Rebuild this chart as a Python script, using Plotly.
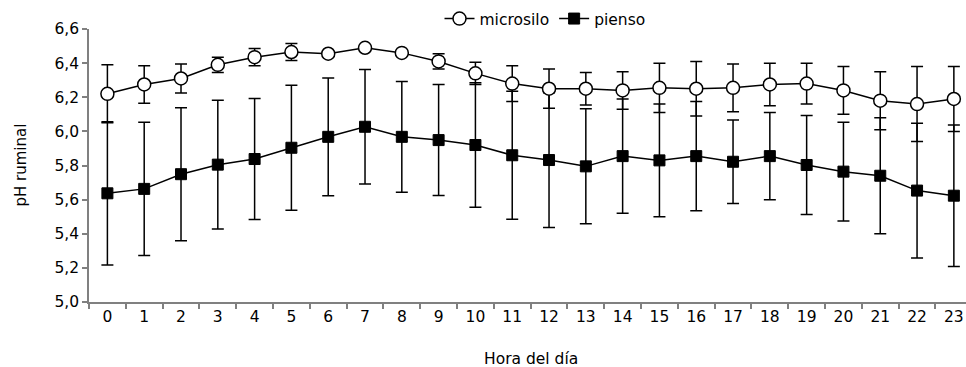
import plotly.graph_objects as go

hours = [str(h) for h in range(24)]

microsilo = [6.22, 6.275, 6.31, 6.39, 6.435, 6.465, 6.455, 6.49, 6.46, 6.41, 6.34, 6.28,
             6.25, 6.25, 6.24, 6.255, 6.25, 6.255, 6.275, 6.28, 6.24, 6.18, 6.16, 6.19]
microsilo_err = [0.17, 0.11, 0.085, 0.045, 0.05, 0.05, 0.01, 0.01, 0.01, 0.045, 0.065, 0.105,
                 0.115, 0.095, 0.11, 0.145, 0.16, 0.14, 0.125, 0.12, 0.14, 0.17, 0.22, 0.19]

pienso = [5.637, 5.663, 5.749, 5.805, 5.838, 5.904, 5.968, 6.027, 5.968, 5.949, 5.92, 5.86,
          5.832, 5.795, 5.855, 5.83, 5.855, 5.822, 5.855, 5.803, 5.764, 5.74, 5.653, 5.623]
pienso_err = [0.42, 0.39, 0.39, 0.377, 0.355, 0.367, 0.345, 0.335, 0.325, 0.325, 0.365, 0.375,
              0.395, 0.337, 0.335, 0.33, 0.32, 0.245, 0.255, 0.29, 0.29, 0.34, 0.395, 0.415]

yticks = [5.0, 5.2, 5.4, 5.6, 5.8, 6.0, 6.2, 6.4, 6.6]

FONT = "DejaVu Sans, Liberation Sans, Arial, sans-serif"
W, H = 966, 367
PL, PT, PB = 89, 29, 302  # plot edges in page pixels
L, T, B, R = PL, PT, H - PB, 0
pw, ph = W - L - R, H - T - B

fig = go.Figure()
fig.add_trace(go.Scatter(
    x=hours, y=pienso, name="pienso", mode="lines+markers",
    line=dict(color="black", width=1.5),
    marker=dict(symbol="square", size=11, color="black", line=dict(color="black", width=1)),
    error_y=dict(type="data", array=pienso_err, visible=True, color="black", thickness=1.5, width=6),
    legendrank=2,
))
fig.add_trace(go.Scatter(
    x=hours, y=microsilo, name="microsilo", mode="lines+markers",
    line=dict(color="black", width=1.5),
    marker=dict(symbol="circle", size=13, color="white", line=dict(color="black", width=1.5)),
    error_y=dict(type="data", array=microsilo_err, visible=True, color="black", thickness=1.5, width=6),
    legendrank=1,
))

fig.update_layout(
    width=W, height=H,
    margin=dict(l=L, r=R, t=T, b=B, pad=0),
    paper_bgcolor="white", plot_bgcolor="white",
    separators=",.",
    font=dict(family=FONT, size=15, color="black"),
    showlegend=True,
    legend=dict(orientation="h", x=(545 - PL) / pw, y=(PB - 19) / ph,
                xanchor="center", yanchor="middle",
                font=dict(size=15.5), bgcolor="rgba(0,0,0,0)",
                itemwidth=30, tracegroupgap=0),
)
fig.update_xaxes(
    type="category", range=[-0.5, 23.33],
    showline=True, linecolor="#808080", linewidth=1.5,
    ticks="outside", tickson="boundaries", ticklen=5, tickcolor="#808080", tickwidth=1.5,
    showgrid=False, zeroline=False, tickfont=dict(size=15.5),
)
fig.update_yaxes(
    range=[5.0, 6.6], tickvals=yticks, tickformat=".1f",
    showline=True, linecolor="#808080", linewidth=1.5,
    ticks="outside", ticklen=5, tickcolor="#808080", tickwidth=1.5,
    showgrid=False, zeroline=False, tickfont=dict(size=15.5),
)

fig.add_annotation(text="pH ruminal", xref="paper", yref="paper",
                   x=(20 - PL) / pw, y=0.5, textangle=-90, showarrow=False,
                   xanchor="center", yanchor="middle", font=dict(size=15))
fig.add_annotation(text="Hora del día", xref="paper", yref="paper",
                   x=(531 - PL) / pw, y=(PB - 359) / ph, showarrow=False,
                   xanchor="center", yanchor="middle", font=dict(size=15.5))

fig.write_html(
    "out.html",
    config={"displayModeBar": False},
    post_script="document.body.style.margin='0';document.body.style.overflow='hidden';",
)
